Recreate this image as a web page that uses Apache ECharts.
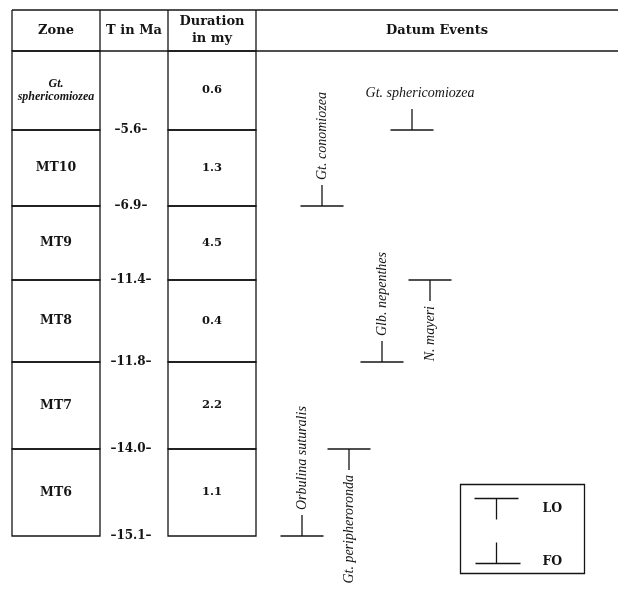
<!DOCTYPE html>
<html><head><meta charset="utf-8">
<script src="https://cdn.jsdelivr.net/npm/echarts@6/dist/echarts.min.js"></script>
<style>html,body{margin:0;padding:0;background:#fff}#c{width:629px;height:589px}</style>
</head><body><div id="c"></div>
<script>
// ---------------- data ----------------
const headers = ['Zone', 'T in Ma', 'Duration\nin my', 'Datum Events'];
const zones = ['Gt.\nsphericomiozea', 'MT10', 'MT9', 'MT8', 'MT7', 'MT6'];
const durations = [0.6, 1.3, 4.5, 0.4, 2.2, 1.1];          // my
const boundaryAges = [5.6, 6.9, 11.4, 11.8, 14.0, 15.1];   // base of each zone, Ma
const eventNames = ['Gt. sphericomiozea', 'Gt. conomiozea', 'N. mayeri', 'Glb. nepenthes', 'Gt. peripheroronda', 'Orbulina suturalis'];
const eventTypes = ['FO', 'FO', 'LO', 'FO', 'LO', 'FO'];
const eventAges = [5.6, 6.9, 11.4, 11.8, 14.0, 15.1];      // Ma
const legendItems = ['LO', 'FO'];

// ---------------- layout / style ----------------
const COL_EDGES = [0, 88, 156, 244, 606];     // x-axis units
const HEADER_H = 41;                          // y-axis units
const ROW_H = [79, 76, 74, 82, 87, 87];       // drawn row heights (y-axis units)
const EVENT_LANE = [400, 310, 418, 370, 337, 290];
const EVENT_VERTICAL = [false, true, true, true, true, true];
const H_LABEL_DX = 8;
const INK = '#151515';
const LW = 1.3;
const TICK_HALF = 21.5, STEM = 21, GAP = 5;
const F_HEAD = 'bold 13px "DejaVu Serif"';
const F_ZONE = 'bold 12.5px "DejaVu Serif"';
const F_ZONE_SP = 'italic bold 12px "Liberation Serif"';
const F_NUM = 'bold 11.5px "DejaVu Serif"';
const F_AGE = 'bold 12px "DejaVu Serif"';
const F_EVENT = 'italic 14px "Liberation Serif"';

const TOTAL_H = HEADER_H + ROW_H.reduce((a, b) => a + b, 0);
function rowTop(i) { let t = HEADER_H; for (let k = 0; k < i; k++) t += ROW_H[k]; return t; }
function ageToY(a) { const k = boundaryAges.indexOf(a); return rowTop(k) + ROW_H[k]; }

function txt(x, y, text, font, align, vAlign, extra, lh) {
  return Object.assign({
    type: 'text',
    x: x, y: y,
    style: {
      text: text, x: 0, y: 0, font: font, fill: INK,
      align: align || 'center', textAlign: align || 'center',
      verticalAlign: vAlign || 'middle', textVerticalAlign: vAlign || 'middle',
      lineHeight: lh || 16
    }
  }, extra || {});
}
function ln(p1, p2) {
  return { type: 'line', shape: { x1: p1[0], y1: p1[1], x2: p2[0], y2: p2[1] }, style: { stroke: INK, lineWidth: LW } };
}

const chart = echarts.init(document.getElementById('c'));
chart.setOption({
  backgroundColor: '#fff',
  animation: false,
  grid: { left: 12, top: 10, width: 606, height: TOTAL_H },
  xAxis: { type: 'value', min: 0, max: COL_EDGES[COL_EDGES.length - 1], show: false },
  yAxis: { type: 'value', min: 0, max: TOTAL_H, inverse: true, show: false },
  series: [
    { // header row
      type: 'custom', clip: false,
      data: headers.map((h, i) => [i, 0]),
      renderItem: function (params, api) {
        const i = api.value(0);
        const x0 = COL_EDGES[i], x1 = COL_EDGES[i + 1];
        const tl = api.coord([x0, 0]), tr = api.coord([x1, 0]);
        const bl = api.coord([x0, HEADER_H]), br = api.coord([x1, HEADER_H]);
        const c = api.coord([(x0 + x1) / 2, HEADER_H / 2]);
        return { type: 'group', children: [
          ln(tl, tr), ln(bl, br), ln(tl, bl),
          txt(c[0], c[1], headers[i], F_HEAD, 'center', 'middle', null, 17)
        ] };
      }
    },
    { // zone and duration cells
      type: 'custom', clip: false,
      data: zones.map((z, i) => [i, durations[i]]),
      renderItem: function (params, api) {
        const i = api.value(0), d = api.value(1);
        const yt = rowTop(i), yb = yt + ROW_H[i];
        const children = [];
        [[0, zones[i], /\./.test(zones[i]) ? F_ZONE_SP : F_ZONE], [2, d.toFixed(1), F_NUM]].forEach(function (cell) {
          const x0 = COL_EDGES[cell[0]], x1 = COL_EDGES[cell[0] + 1];
          const p0 = api.coord([x0, yt]), p1 = api.coord([x1, yb]);
          children.push({ type: 'rect', shape: { x: p0[0], y: p0[1], width: p1[0] - p0[0], height: p1[1] - p0[1] },
            style: { fill: null, stroke: INK, lineWidth: LW } });
          const c = api.coord([(x0 + x1) / 2, (yt + yb) / 2]);
          children.push(txt(c[0], c[1], cell[1], cell[2], 'center', 'middle', null, 13));
        });
        return { type: 'group', children: children };
      }
    },
    { // T in Ma boundary labels
      type: 'custom', clip: false,
      data: boundaryAges.map((a, i) => [i, a]),
      renderItem: function (params, api) {
        const a = api.value(1);
        const c = api.coord([(COL_EDGES[1] + COL_EDGES[2]) / 2 - 3, ageToY(a)]);
        return txt(c[0], c[1], '\u2013' + a.toFixed(1) + '\u2013', F_AGE);
      }
    },
    { // datum events
      type: 'custom', clip: false,
      data: eventAges.map((a, i) => [EVENT_LANE[i], a, i]),
      renderItem: function (params, api) {
        const lane = api.value(0), a = api.value(1), i = api.value(2);
        const p = api.coord([lane, ageToY(a)]);
        const isFO = eventTypes[i] === 'FO';
        const stemEnd = isFO ? p[1] - STEM : p[1] + STEM;
        const children = [
          ln([p[0] - TICK_HALF, p[1]], [p[0] + TICK_HALF, p[1]]),
          ln([p[0], p[1]], [p[0], stemEnd])
        ];
        if (EVENT_VERTICAL[i]) {
          const ly = isFO ? stemEnd - GAP : stemEnd + GAP;
          children.push(txt(p[0], ly, eventNames[i], F_EVENT, isFO ? 'left' : 'right', 'middle', { rotation: Math.PI / 2 }));
        } else {
          children.push(txt(p[0] + H_LABEL_DX, stemEnd - 8, eventNames[i], F_EVENT, 'center', 'bottom'));
        }
        return { type: 'group', children: children };
      }
    }
  ],
  graphic: [{
    type: 'group', left: 458, top: 482,
    children: [
      { type: 'rect', shape: { x: 0, y: 0, width: 124, height: 89 }, style: { fill: null, stroke: INK, lineWidth: LW } },
      { type: 'line', shape: { x1: 14, y1: 14, x2: 58, y2: 14 }, style: { stroke: INK, lineWidth: LW } },
      { type: 'line', shape: { x1: 36, y1: 14, x2: 36, y2: 35 }, style: { stroke: INK, lineWidth: LW } },
      { type: 'text', style: { text: legendItems[0], x: 82, y: 24, font: 'bold 12.5px "DejaVu Serif"', fill: INK, verticalAlign: 'middle', textVerticalAlign: 'middle' } },
      { type: 'line', shape: { x1: 15, y1: 79, x2: 60, y2: 79 }, style: { stroke: INK, lineWidth: LW } },
      { type: 'line', shape: { x1: 36, y1: 58, x2: 36, y2: 79 }, style: { stroke: INK, lineWidth: LW } },
      { type: 'text', style: { text: legendItems[1], x: 82, y: 77, font: 'bold 12.5px "DejaVu Serif"', fill: INK, verticalAlign: 'middle', textVerticalAlign: 'middle' } }
    ]
  }]
});
</script>
</body></html>
